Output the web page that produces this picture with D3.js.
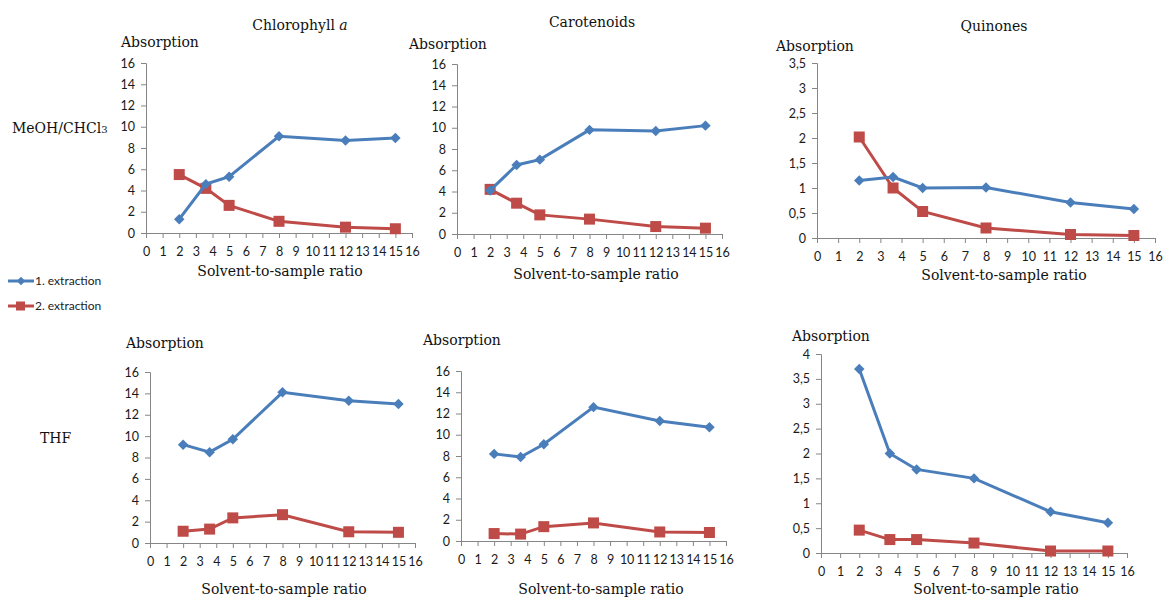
<!DOCTYPE html>
<html>
<head>
<meta charset="utf-8">
<script src="https://cdn.jsdelivr.net/npm/d3@7"></script>
<style>
  body { margin: 0; background: #fff; }
  .tick text { font-family: Lato, "Liberation Sans", sans-serif; font-size: 12.5px; fill: #1a1a1a; }
  .domain, .tick line { stroke: #868686; }
  .serif { font-family: "DejaVu Serif", serif; font-size: 14px; fill: #111; }
</style>
</head>
<body>
<div class="canva"></div>
<script>
// x values (solvent-to-sample ratio)
const ratios = [2, 3.6, 5, 8, 12, 15];

// MeOH/CHCl3
const chlMeohFirst  = [1.3, 4.6, 5.3, 9.1, 8.7, 8.95];
const chlMeohSecond = [5.5, 4.2, 2.6, 1.1, 0.55, 0.4];
const carMeohFirst  = [4.1, 6.5, 7.0, 9.8, 9.7, 10.2];
const carMeohSecond = [4.2, 2.9, 1.8, 1.4, 0.7, 0.55];
const quiMeohFirst  = [1.15, 1.22, 1.0, 1.01, 0.71, 0.58];
const quiMeohSecond = [2.02, 1.0, 0.53, 0.2, 0.07, 0.05];

// THF
const chlThfFirst  = [9.2, 8.5, 9.7, 14.1, 13.3, 13.0];
const chlThfSecond = [1.1, 1.3, 2.35, 2.65, 1.05, 1.0];
const carThfFirst  = [8.2, 7.9, 9.1, 12.6, 11.3, 10.7];
const carThfSecond = [0.7, 0.65, 1.35, 1.7, 0.85, 0.8];
const quiThfFirst  = [3.7, 2.0, 1.68, 1.5, 0.83, 0.61];
const quiThfSecond = [0.46, 0.27, 0.27, 0.2, 0.04, 0.04];

const titles = ["Chlorophyll ", "Carotenoids", "Quinones"];
const rowLabels = ["MeOH/CHCl", "THF"];
const seriesNames = ["1. extraction", "2. extraction"];
const xTicks = d3.range(0, 17, 1);

const blue = "#4a7ebb";
const red = "#be4b48";

const svg = d3.select(".canva").append("svg")
  .attr("width", 1164)
  .attr("height", 601);

const commaFmt = d3.formatLocale({decimal: ",", thousands: ".", grouping: [3], currency: ["", ""]}).format("~g");

// panel layout (plot box in px)
const panels = [
  {left:146, right:412, bottom:233, top:63, ymax:16, step:2, first:chlMeohFirst, second:chlMeohSecond, abs:[121,47], xt:[280,276]},
  {left:457, right:722, bottom:234, top:64, ymax:16, step:2, first:carMeohFirst, second:carMeohSecond, abs:[409,49], xt:[596,279]},
  {left:817, right:1155, bottom:238, top:63, ymax:3.5, step:0.5, first:quiMeohFirst, second:quiMeohSecond, abs:[776,51], xt:[1004,280]},
  {left:150, right:415, bottom:543, top:372, ymax:16, step:2, first:chlThfFirst, second:chlThfSecond, abs:[126,348], xt:[284,594]},
  {left:461, right:726, bottom:541, top:371, ymax:16, step:2, first:carThfFirst, second:carThfSecond, abs:[423,345], xt:[601,594]},
  {left:821, right:1127, bottom:553, top:354, ymax:4, step:0.5, first:quiThfFirst, second:quiThfSecond, abs:[792,341], xt:[996,594]}
];

panels.forEach(function(p){
  const g = svg.append("g");
  const x = d3.scaleLinear().domain([0,16]).range([p.left, p.right]);
  const y = d3.scaleLinear().domain([0,p.ymax]).range([p.bottom, p.top]);
  const yTicks = d3.range(0, p.ymax + p.step/2, p.step);

  g.append("g")
    .attr("transform", `translate(0,${p.bottom})`)
    .call(d3.axisBottom(x).tickValues(xTicks).tickSize(5).tickPadding(9).tickFormat(d3.format("d")))
    .call(a => a.selectAll("text").attr("dy", "0.71em"));

  g.append("g")
    .attr("transform", `translate(${p.left},0)`)
    .call(d3.axisLeft(y).tickValues(yTicks).tickSize(5).tickPadding(6)
      .tickFormat(p.step < 1 ? commaFmt : d3.format("d")));

  g.selectAll(".domain").attr("stroke", "#868686");

  const line = d3.line().x((d,i) => x(ratios[i])).y(d => y(d));

  // 2. extraction
  g.append("path").datum(p.second)
    .attr("d", line).attr("fill", "none").attr("stroke", red).attr("stroke-width", 3);
  g.selectAll(".sq").data(p.second).enter().append("rect")
    .attr("x", (d,i) => x(ratios[i]) - 5.5)
    .attr("y", d => y(d) - 5.5)
    .attr("width", 11).attr("height", 11)
    .attr("fill", red);

  // 1. extraction
  g.append("path").datum(p.first)
    .attr("d", line).attr("fill", "none").attr("stroke", blue).attr("stroke-width", 3);
  g.selectAll(".dia").data(p.first).enter().append("path")
    .attr("d", d3.symbol().type(d3.symbolDiamond2).size(70))
    .attr("transform", (d,i) => `translate(${x(ratios[i])},${y(d)})`)
    .attr("fill", blue);

  g.append("text").attr("class", "serif")
    .attr("x", p.abs[0]).attr("y", p.abs[1])
    .text("Absorption");

  g.append("text").attr("class", "serif")
    .attr("x", p.xt[0]).attr("y", p.xt[1])
    .attr("text-anchor", "middle")
    .text("Solvent-to-sample ratio");
});

// column titles
const chlT = svg.append("text").attr("class", "serif").attr("x", 300).attr("y", 30).attr("text-anchor", "middle");
chlT.append("tspan").text(titles[0]);
chlT.append("tspan").style("font-style", "italic").text("a");
svg.append("text").attr("class", "serif").attr("x", 592).attr("y", 27).attr("text-anchor", "middle").text(titles[1]);
svg.append("text").attr("class", "serif").attr("x", 994).attr("y", 31).attr("text-anchor", "middle").text(titles[2]);

// row labels
const r1 = svg.append("text").attr("class", "serif").attr("x", 12).attr("y", 133);
r1.append("tspan").text(rowLabels[0]);
r1.append("tspan").attr("font-size", "10px").text("3");
svg.append("text").attr("class", "serif").attr("x", 40).attr("y", 443).text(rowLabels[1]);

// legend
const legend = svg.append("g");
[blue, red].forEach(function(c, i){
  const ly = 281 + i * 25;
  legend.append("line").attr("x1", 8).attr("x2", 34).attr("y1", ly).attr("y2", ly)
    .attr("stroke", c).attr("stroke-width", 3);
  if (i === 0) {
    legend.append("path").attr("d", d3.symbol().type(d3.symbolDiamond2).size(45))
      .attr("transform", `translate(21,${ly})`).attr("fill", c);
  } else {
    legend.append("rect").attr("x", 16).attr("y", ly - 4.5).attr("width", 9).attr("height", 9).attr("fill", c);
  }
  legend.append("text").attr("x", 35).attr("y", ly + 4)
    .style("font-family", "Lato, 'Liberation Sans', sans-serif").style("font-size", "12px").style("fill", "#222")
    .text(seriesNames[i]);
});
</script>
</body>
</html>
